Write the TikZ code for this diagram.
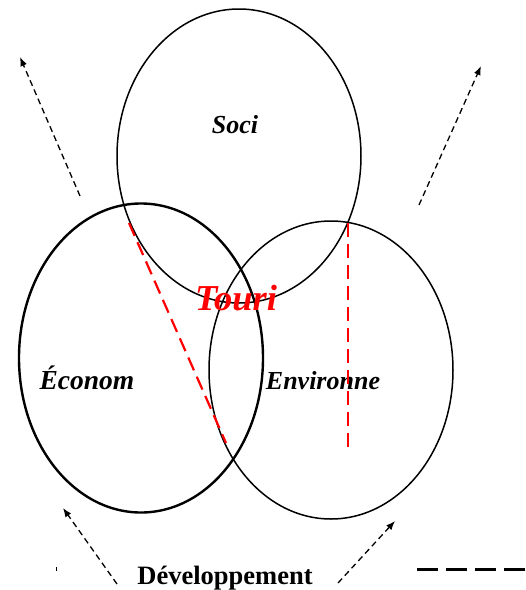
\documentclass[tikz,border=0pt]{standalone}
\usepackage{fontspec}
\setmainfont{Liberation Serif}
\usetikzlibrary{arrows.meta,shapes.geometric}

\begin{document}
\begin{tikzpicture}[x=1pt,y=-1pt,
  pillar/.style={ellipse,draw=black,line width=1.5pt,inner sep=0pt,
                 minimum width=244pt,minimum height=294pt},
  lab/.style={font=\fontsize{26}{30}\selectfont\bfseries\itshape,anchor=base,inner sep=0pt},
  growth/.style={-{Latex[length=9pt,width=7pt]},line width=1.3pt,dash pattern=on 6pt off 4pt},
  link/.style={red,line width=2.2pt,dash pattern=on 14pt off 7pt}]
\useasboundingbox (0,0) rectangle (526,590);
\node[pillar] (soc) at (239,156) {};
\node[pillar,line width=2.4pt,minimum height=309pt] (eco) at (141,358) {};
\node[pillar,minimum height=298pt] (env) at (331,370) {};
\node[lab] (socl) at (235,133) {Soci};
\node[lab,font=\fontsize{27.5}{31}\selectfont\bfseries\itshape] (ecol) at (87,389) {Économ};
\node[lab] (envl) at (323,389) {Environne};
\node[lab,red,font=\fontsize{36.5}{40}\selectfont\bfseries\itshape] (tour) at (236,310) {Touri};
\node[font=\fontsize{26.5}{30}\selectfont\bfseries,anchor=base,inner sep=0pt] (dev) at (225,584) {Développement};
\coordinate (ecoS) at (129,223);
\coordinate (ecoE) at (226,443);
\coordinate (envS) at (348,223);
\coordinate (envE) at (348,448);
\draw[link] (ecoS) -- (ecoE);
\draw[link] (envS) -- (envE);
\coordinate (tlS) at (80,196);
\coordinate (tlE) at (20,57);
\coordinate (trS) at (419,205);
\coordinate (trE) at (481,66);
\coordinate (blS) at (117,584);
\coordinate (blE) at (63,508);
\coordinate (brS) at (338,583);
\coordinate (brE) at (395,521);
\draw[growth] (tlS) -- (tlE);
\draw[growth] (trS) -- (trE);
\draw[growth] (blS) -- (blE);
\draw[growth] (brS) -- (brE);
\coordinate (keyS) at (417,569);
\coordinate (keyE) at (526,569);
\draw[line width=3pt,dash pattern=on 21pt off 8pt] (keyS) -- (keyE);
\coordinate (tickS) at (56,567);
\coordinate (tickE) at (56,571);
\draw[line width=1pt] (tickS) -- (tickE);
\end{tikzpicture}
\end{document}
